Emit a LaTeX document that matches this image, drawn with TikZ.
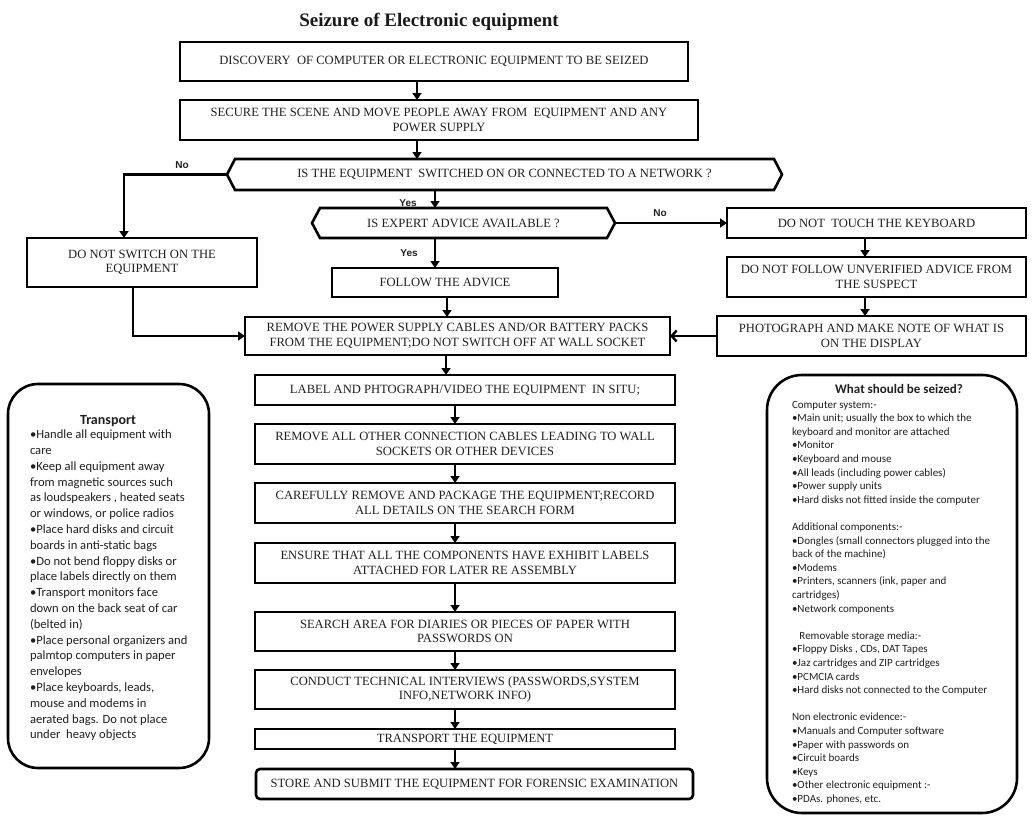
\documentclass[tikz,border=0pt]{standalone}
\usepackage{fontspec}
\setmainfont{Liberation Serif}
\newfontfamily\calfont{Carlito}
\newfontfamily\arsfont{Liberation Sans}
\usetikzlibrary{arrows.meta,calc}
\begin{document}
\begin{tikzpicture}[x=1pt,y=-1pt,
  box/.style={draw=black, line width=2.6pt, rectangle, inner sep=0pt, outer sep=0pt, align=center,
    font=\fontsize{12.6}{14.5}\selectfont, text=black!88},
  hexn/.style={rectangle, inner sep=0pt, outer sep=0pt, align=center,
    font=\fontsize{12.6}{14.5}\selectfont, text=black!88},
  hexline/.style={draw=black, line width=2.6pt, line join=miter},
  arr/.style={line width=2.2pt, -{Triangle[length=7pt,width=9pt]}},
  barb/.style={line width=2.4pt, -{Straight Barb[length=5pt,width=11pt,line width=2.4pt]}},
  lbl/.style={font=\arsfont\bfseries\fontsize{10}{12}\selectfont, text=black!88},
  side/.style={draw=black, line width=2.6pt, rectangle, inner sep=0pt, outer sep=0pt},
  sidetxt/.style={inner sep=0pt, outer sep=0pt, align=left, text=black!88}
]
\useasboundingbox (0,0) rectangle (1033,816);

% title
\node[font=\bfseries\fontsize{19}{22}\selectfont, text=black!90] (title) at (429,22) {Seizure of Electronic equipment};

% top boxes
\node[box, minimum width=508pt, minimum height=39pt] (b1) at (434,61.5) {DISCOVERY\ \ OF COMPUTER OR ELECTRONIC EQUIPMENT TO BE SEIZED};
\node[box, minimum width=518pt, minimum height=40pt] (b2) at (439,120) {SECURE THE SCENE AND MOVE PEOPLE AWAY FROM\ \ EQUIPMENT AND ANY\\POWER SUPPLY};

% decision 1
\node[hexn, minimum width=555pt, minimum height=31pt] (h1) at (504.5,174.5) {IS THE EQUIPMENT\ \ SWITCHED ON OR CONNECTED TO A NETWORK ?};
\draw[hexline] (h1.west) -- ($(h1.north west)+(8,0)$) -- ($(h1.north east)+(-8,0)$) -- (h1.east)
  -- ($(h1.south east)+(-8,0)$) -- ($(h1.south west)+(8,0)$) -- cycle;

% decision 2
\node[hexn, minimum width=303pt, minimum height=30pt] (h2) at (463.5,223) {IS EXPERT ADVICE AVAILABLE ?};
\draw[hexline] (h2.west) -- ($(h2.north west)+(8,0)$) -- ($(h2.north east)+(-8,0)$) -- (h2.east)
  -- ($(h2.south east)+(-8,0)$) -- ($(h2.south west)+(8,0)$) -- cycle;

\node[box, minimum width=230pt, minimum height=49pt] (dns) at (142,262.5) {DO NOT SWITCH ON THE\\EQUIPMENT};
\node[box, minimum width=226pt, minimum height=29pt] (follow) at (445,282.5) {FOLLOW THE ADVICE};
\node[box, minimum width=425pt, minimum height=38pt] (remove) at (457.5,336) {REMOVE THE POWER SUPPLY CABLES AND/OR BATTERY PACKS\\FROM THE EQUIPMENT;DO NOT SWITCH OFF AT WALL SOCKET};

\node[box, minimum width=299pt, minimum height=30pt] (touch) at (876.5,223) {DO NOT\ \ TOUCH THE KEYBOARD};
\node[box, minimum width=299pt, minimum height=40pt] (nofollow) at (876.5,277) {DO NOT FOLLOW UNVERIFIED ADVICE FROM\\THE SUSPECT};
\node[box, minimum width=309pt, minimum height=40pt] (photo) at (871.5,336) {PHOTOGRAPH AND MAKE NOTE OF WHAT IS\\ON THE DISPLAY};

% central column
\node[box, minimum width=420pt, minimum height=30pt] (label) at (465,390) {LABEL AND PHTOGRAPH/VIDEO THE EQUIPMENT\ \ IN SITU;};
\node[box, minimum width=420pt, minimum height=40pt] (rmall) at (465,444) {REMOVE ALL OTHER CONNECTION CABLES LEADING TO WALL\\SOCKETS OR OTHER DEVICES};
\node[box, minimum width=420pt, minimum height=40pt] (careful) at (465,503) {CAREFULLY REMOVE AND PACKAGE THE EQUIPMENT;RECORD\\ALL DETAILS ON THE SEARCH FORM};
\node[box, minimum width=420pt, minimum height=40pt] (ensure) at (465,563) {ENSURE THAT ALL THE COMPONENTS HAVE EXHIBIT LABELS\\ATTACHED FOR LATER RE ASSEMBLY};
\node[box, minimum width=420pt, minimum height=39pt] (search) at (465,631.5) {SEARCH AREA FOR DIARIES OR PIECES OF PAPER WITH\\PASSWORDS ON};
\node[box, minimum width=420pt, minimum height=39pt] (conduct) at (465,689.5) {CONDUCT TECHNICAL INTERVIEWS (PASSWORDS,SYSTEM\\INFO,NETWORK INFO)};
\node[box, minimum width=420pt, minimum height=20pt] (transp) at (465,739) {TRANSPORT THE EQUIPMENT};
\node[box, rounded corners=4pt, minimum width=437pt, minimum height=30pt] (store) at (474.5,784) {STORE AND SUBMIT THE EQUIPMENT FOR FORENSIC EXAMINATION};

% connectors
\draw[arr] ([xshift=237pt]b1.south west) -- ([xshift=237pt]b2.north west);
\draw[arr] ([xshift=237pt]b2.south west) -- ([xshift=190pt]h1.north west);
\draw[arr] ([xshift=208pt]h1.south west) -- ([xshift=123pt]h2.north west);
\draw[arr] (h1.west) -| ([xshift=97pt]dns.north west);
\draw[arr] ([xshift=123pt]h2.south west) -- ([xshift=103pt]follow.north west);
\draw[arr] (h2.east) -- (touch.west);
\draw[arr] ([xshift=115pt]follow.south west) -- ([xshift=202pt]remove.north west);
\draw[arr] ([xshift=106pt]dns.south west) |- (remove.west);
\draw[arr] ([xshift=138pt]touch.south west) -- ([xshift=138pt]nofollow.north west);
\draw[arr] ([xshift=138pt]nofollow.south west) -- ([xshift=148pt]photo.north west);
\draw[barb] (photo.west) -- (remove.east);
\draw[arr] ([xshift=201pt]remove.south west) -- ([xshift=191pt]label.north west);
\draw[arr] ([xshift=200pt]label.south west) -- ([xshift=200pt]rmall.north west);
\draw[arr] ([xshift=200pt]rmall.south west) -- ([xshift=200pt]careful.north west);
\draw[arr] ([xshift=200pt]careful.south west) -- ([xshift=200pt]ensure.north west);
\draw[arr] ([xshift=200pt]ensure.south west) -- ([xshift=200pt]search.north west);
\draw[arr] ([xshift=200pt]search.south west) -- ([xshift=200pt]conduct.north west);
\draw[arr] ([xshift=200pt]conduct.south west) -- ([xshift=200pt]transp.north west);
\draw[arr] ([xshift=200pt]transp.south west) -- ([xshift=199pt]store.north west);

% labels
\node[lbl] (no1) at (182,165) {No};
\node[lbl] (yes1) at (408,203) {Yes};
\node[lbl] (yes2) at (409,253) {Yes};
\node[lbl] (no2) at (660,213) {No};

% transport side box
\node[side, rounded corners=30pt, minimum width=201pt, minimum height=384pt] (tbox) at (108.5,576) {};
\node[font=\calfont\bfseries\fontsize{14}{16}\selectfont, text=black!88] (ttitle) at (108,421) {Transport};
\node[sidetxt, anchor=north west, font=\calfont\fontsize{12.6}{15.8}\selectfont] (tbody) at (30,430) {%
•Handle all equipment with\\
care\\
•Keep all equipment away\\
from magnetic sources such\\
as loudspeakers , heated seats\\
or windows, or police radios\\
•Place hard disks and circuit\\
boards in anti-static bags\\
•Do not bend floppy disks or\\
place labels directly on them\\
•Transport monitors face\\
down on the back seat of car\\
(belted in)\\
•Place personal organizers and\\
palmtop computers in paper\\
envelopes\\
•Place keyboards, leads,\\
mouse and modems in\\
aerated bags. Do not place\\
under\ \ heavy objects};

% seized side box
\node[side, rounded corners=35pt, minimum width=250pt, minimum height=438pt] (sbox) at (892,594) {};
\node[font=\calfont\bfseries\fontsize{13}{15}\selectfont, text=black!88] (stitle) at (899,389) {What should be seized?};
\node[sidetxt, anchor=north west, font=\calfont\fontsize{11}{13.6}\selectfont] (sbody) at (792,401) {%
Computer system:-\\
•Main unit; usually the box to which the\\
keyboard and monitor are attached\\
•Monitor\\
•Keyboard and mouse\\
•All leads (including power cables)\\
•Power supply units\\
•Hard disks not fitted inside the computer\\
\strut\\
Additional components:-\\
•Dongles (small connectors plugged into the\\
back of the machine)\\
•Modems\\
•Printers, scanners (ink, paper and\\
cartridges)\\
•Network components\\
\strut\\
\ \ \ Removable storage media:-\\
•Floppy Disks , CDs, DAT Tapes\\
•Jaz cartridges and ZIP cartridges\\
•PCMCIA cards\\
•Hard disks not connected to the Computer\\
\strut\\
Non electronic evidence:-\\
•Manuals and Computer software\\
•Paper with passwords on\\
•Circuit boards\\
•Keys\\
•Other electronic equipment :-\\
•PDAs. phones, etc.};
\end{tikzpicture}
\end{document}
